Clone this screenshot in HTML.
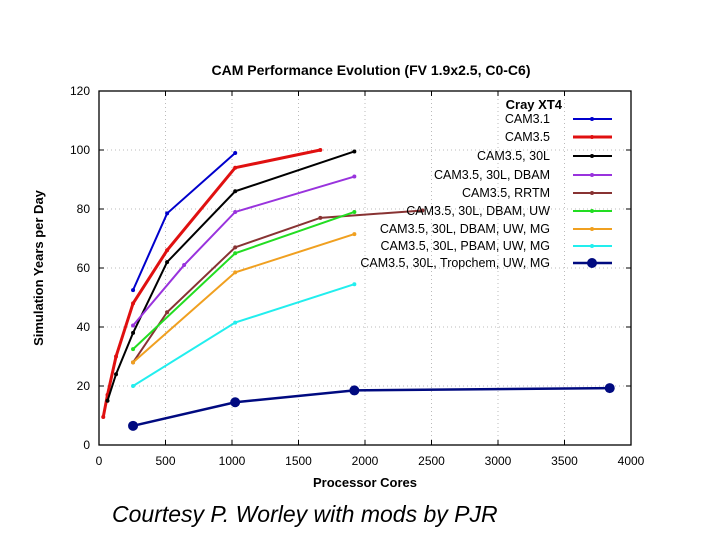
<!DOCTYPE html>
<html><head><meta charset="utf-8"><style>
body{margin:0;background:#fff;width:720px;height:540px;overflow:hidden}
svg text{font-family:"Liberation Sans",sans-serif}
</style></head><body>
<svg id="c" width="720" height="540">
<text x="371" y="75" text-anchor="middle" font-size="14" font-weight="bold">CAM Performance Evolution (FV 1.9x2.5, C0-C6)</text>
<text transform="translate(43,268) rotate(-90)" text-anchor="middle" font-size="13" font-weight="bold">Simulation Years per Day</text>
<text x="365" y="487" text-anchor="middle" font-size="13" font-weight="bold">Processor Cores</text>
<text x="112" y="522" font-size="23" font-style="italic">Courtesy P. Worley with mods by PJR</text>
<g id="grid"></g><g id="axes"></g><g id="series"></g><g id="legend"></g>
</svg>
<script>
const xTicks=[0,500,1000,1500,2000,2500,3000,3500,4000];
const yTicks=[0,20,40,60,80,100,120];
const names=["CAM3.1","CAM3.5","CAM3.5, 30L","CAM3.5, 30L, DBAM","CAM3.5, RRTM","CAM3.5, 30L, DBAM, UW","CAM3.5, 30L, DBAM, UW, MG","CAM3.5, 30L, PBAM, UW, MG","CAM3.5, 30L, Tropchem, UW, MG"];
const colors=["#0000cc","#e01010","#000000","#9933dd","#883333","#22dd22","#f0a020","#22eeee","#000a80"];
const s0x=[256,512,1024], s0y=[52.5,78.5,99];
const s1x=[32,64,128,256,512,1024,1664], s1y=[9.5,17,30,48,66,94,100];
const s2x=[64,128,256,512,1024,1920], s2y=[15,24,38,62,86,99.5];
const s3x=[256,640,1024,1920], s3y=[40.5,61,79,91];
const s4x=[256,512,1024,1664,2432], s4y=[28,45,67,77,79.5];
const s5x=[256,1024,1920], s5y=[32.5,65,79];
const s6x=[256,1024,1920], s6y=[28,58.5,71.5];
const s7x=[256,1024,1920], s7y=[20,41.5,54.5];
const s8x=[256,1024,1920,3840], s8y=[6.5,14.5,18.5,19.3];
const SX=[s0x,s1x,s2x,s3x,s4x,s5x,s6x,s7x,s8x], SY=[s0y,s1y,s2y,s3y,s4y,s5y,s6y,s7y,s8y];
const L=99,R=631,T=91,B=445;
const X=v=>L+(v/4000)*(R-L), Y=v=>B-(v/120)*(B-T);
const NS="http://www.w3.org/2000/svg";
function mk(t,a,p){const e=document.createElementNS(NS,t);for(const k in a)e.setAttribute(k,a[k]);p.appendChild(e);return e;}
const grid=document.getElementById('grid'),axes=document.getElementById('axes'),ser=document.getElementById('series'),leg=document.getElementById('legend');
xTicks.forEach(t=>{
 if(t>0&&t<4000){const g=mk('line',{x1:X(t),x2:X(t),y1:T,y2:B,stroke:'#bbb','stroke-dasharray':'1,3'},grid);
 
 }
 mk('line',{x1:X(t),x2:X(t),y1:B,y2:B-5,stroke:'#000'},axes);mk('line',{x1:X(t),x2:X(t),y1:T,y2:T+5,stroke:'#000'},axes);
 const tx=mk('text',{x:X(t),y:B+20,'text-anchor':'middle','font-size':12},axes);tx.textContent=t;
 
 
});
yTicks.forEach(t=>{
 if(t>0&&t<120){const g=mk('line',{x1:L,x2:R,y1:Y(t),y2:Y(t),stroke:'#bbb','stroke-dasharray':'1,3'},grid);
 
 }
 mk('line',{x1:L,x2:L+5,y1:Y(t),y2:Y(t),stroke:'#000'},axes);mk('line',{x1:R,x2:R-5,y1:Y(t),y2:Y(t),stroke:'#000'},axes);
 const tx=mk('text',{x:L-9,y:Y(t)+4,'text-anchor':'end','font-size':12},axes);tx.textContent=t;
 
 
});
const frame=mk('rect',{x:L,y:T,width:R-L,height:B-T,fill:'none',stroke:'#000','stroke-width':1.3},axes);


const ly=[119,137,156,175,193,211,229,246,263];
const lt=mk('text',{x:562,y:109,'text-anchor':'end','font-size':13,'font-weight':'bold'},leg);lt.textContent='Cray XT4';


SX.forEach((xs,i)=>{
 const w=(i==1)?3:(i==8?2.5:2);
 const pts=xs.map((x,j)=>X(x)+','+Y(SY[i][j])).join(' ');
 const pl=mk('polyline',{points:pts,fill:'none',stroke:colors[i],'stroke-width':w},ser);
 
 
 xs.forEach((x,j)=>{const r=(i==8)?5:2;const c=mk('circle',{cx:X(x),cy:Y(SY[i][j]),r:r,fill:colors[i]},ser);
  
  });
 const g=mk('g',{},leg);
 
 
 const t=mk('text',{x:550,y:ly[i]+4,'text-anchor':'end','font-size':12.5},g);t.textContent=names[i];
 mk('line',{x1:573,x2:612,y1:ly[i],y2:ly[i],stroke:colors[i],'stroke-width':w},g);
 mk('circle',{cx:592,cy:ly[i],r:(i==8)?5:2,fill:colors[i]},g);
});
</script>
</body></html>
